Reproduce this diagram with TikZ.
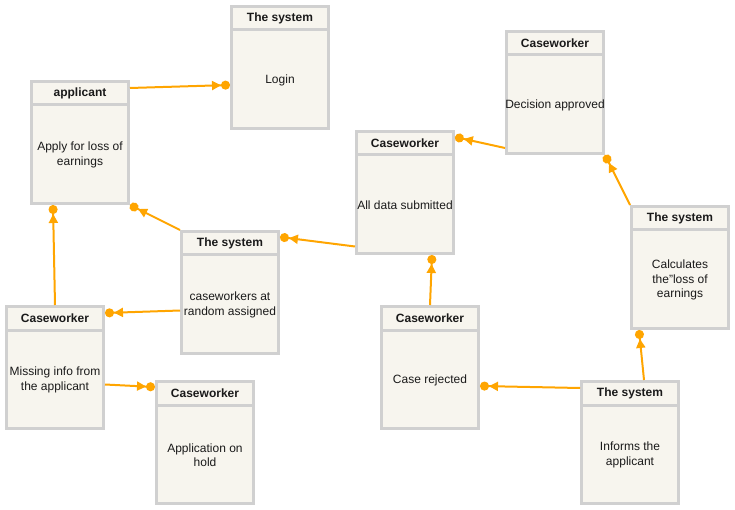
\documentclass[tikz,border=0pt]{standalone}
\usepackage{fontspec}
\setmainfont{Liberation Sans}
\usetikzlibrary{arrows.meta,calc}
\definecolor{boxline}{HTML}{D0D0D0}
\definecolor{boxfill}{HTML}{F7F5EE}
\definecolor{conn}{HTML}{FFA500}
\definecolor{txt}{HTML}{1A1A1A}
\tikzset{
  umlbox/.style={rectangle, draw=boxline, fill=boxfill, line width=3pt,
    minimum width=97pt, minimum height=122pt, inner sep=0pt},
  divider/.style={draw=boxline, line width=3pt},
  headtext/.style={font=\fontsize{12}{14}\selectfont\bfseries, text=txt, inner sep=0pt},
  bodytext/.style={font=\fontsize{12}{14.5}\selectfont, text=txt, align=center, inner sep=0pt},
  flow/.style={draw=conn, line width=2pt,
    -{Triangle[length=9pt,width=9pt,sep=0pt] Circle[length=9pt,width=9pt]}}
}
\newcommand{\umlpart}[5]{%
  \node[umlbox] (#1) at (#2) {};
  \draw[divider] ($(#1.north west)+(0,25)$) -- ($(#1.north east)+(0,25)$);
  \node[headtext] (#1-h) at ($(#1.north)+(0,13)$) {#3};
  \node[bodytext] (#1-b) at ($(#1.center)+(0,12.5)$) {#4};
}
\begin{document}
\begin{tikzpicture}[x=1pt,y=-1pt]
\useasboundingbox (0,0) rectangle (735,510);
\umlpart{login}{280,67.5}{The system}{Login}{}
\umlpart{app}{80,142.5}{applicant}{Apply for loss of\\earnings}{}
\umlpart{decision}{555,92.5}{Caseworker}{Decision approved}{}
\umlpart{alldata}{405,192.5}{Caseworker}{All data submitted}{}
\umlpart{random}{230,292.5}{The system}{caseworkers at\\random assigned}{}
\umlpart{calc}{680,267.5}{The system}{Calculates\\the"loss of\\earnings}{}
\umlpart{missing}{55,367.5}{Caseworker}{Missing info from\\the applicant}{}
\umlpart{rejected}{430,367.5}{Caseworker}{Case rejected}{}
\umlpart{hold}{205,442.5}{Caseworker}{Application on\\hold}{}
\umlpart{informs}{630,442.5}{The system}{Informs the\\applicant}{}

\draw[flow] ($(app.north east)+(0,8)$) -- ($(login.west)+(0,17.5)$);
\draw[flow] (random.north west) -- (app.south east);
\draw[flow] ($(alldata.west)+(0,54)$) -- ($(random.north east)+(0,7)$);
\draw[flow] ($(decision.south west)+(0,-7)$) -- ($(alldata.north east)+(0,7)$);
\draw[flow] (calc.north west) -- (decision.south east);
\draw[flow] ($(informs.north)+(14,0)$) -- ($(calc.south)+(-41,0)$);
\draw[flow] ($(informs.north west)+(0,8)$) -- ($(rejected.east)+(0,18.5)$);
\draw[flow] (rejected.north) -- ($(alldata.south)+(27,0)$);
\draw[flow] ($(random.west)+(0,18)$) -- ($(missing.north east)+(0,8)$);
\draw[flow] (missing.north) -- ($(app.south)+(-27,0)$);
\draw[flow] ($(missing.east)+(0,17)$) -- ($(hold.west)+(0,-55.5)$);
\end{tikzpicture}
\end{document}
